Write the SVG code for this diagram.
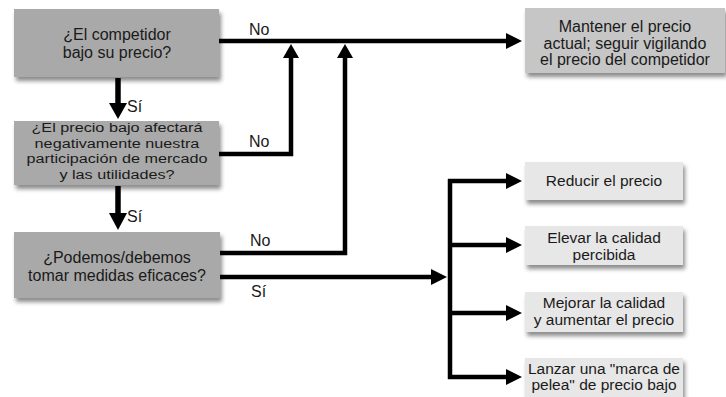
<svg xmlns="http://www.w3.org/2000/svg" width="726" height="397" viewBox="0 0 726 397">
<style>
  .t { font-family: "Liberation Sans", Arial, sans-serif; font-size: 16px; fill: #1a1a1a; text-anchor: middle; }
  .s { font-size: 15.5px; }
  .t2 { font-family: "Liberation Sans", Arial, sans-serif; font-size: 13.5px; fill: #1a1a1a; text-anchor: middle; }
  .lbl { font-family: "Liberation Sans", Arial, sans-serif; font-size: 16px; fill: #1a1a1a; }
  .q { fill: #a9a9a9; filter: url(#sh); }
  .m { fill: #c6c6c6; filter: url(#sh); }
  .a { fill: #e7e7e7; filter: url(#sh); }
  .ln { stroke: #000; stroke-width: 4.5; fill: none; }
  .hd { fill: #000; }
</style>
<defs>
  <filter id="sh" x="-5%" y="-10%" width="115%" height="140%">
    <feDropShadow dx="2" dy="4" stdDeviation="2" flood-color="#000" flood-opacity="0.45"/>
  </filter>
</defs>
<rect width="726" height="397" fill="#fff"/>

<g id="connectors">
  <path class="ln" d="M219,41 H508"/>
  <polygon class="hd" points="506,33 522,41 506,49"/>
  <path class="ln" d="M219,154 H291 V56"/>
  <polygon class="hd" points="283,58 291,44 299,58"/>
  <path class="ln" d="M220,253 H345 V56"/>
  <polygon class="hd" points="337,58 345,44 353,58"/>
  <path class="ln" d="M220,277 H433"/>
  <polygon class="hd" points="431,269 447,277 431,285"/>
  <path class="ln" d="M450,179 V379"/>
  <path class="ln" d="M448,181 H508"/>
  <polygon class="hd" points="506,173 522,181 506,189"/>
  <path class="ln" d="M450,245 H508"/>
  <polygon class="hd" points="506,237 522,245 506,253"/>
  <path class="ln" d="M450,313 H508"/>
  <polygon class="hd" points="506,305 522,313 506,321"/>
  <path class="ln" d="M448,377 H508"/>
  <polygon class="hd" points="506,369 522,377 506,385"/>
  <path class="ln" d="M118,78 V104" style="stroke-width:5.5"/>
  <polygon class="hd" points="109,103 127,103 118,119"/>
  <path class="ln" d="M118,186 V214" style="stroke-width:5.5"/>
  <polygon class="hd" points="109,213 127,213 118,230"/>
  <text class="lbl" x="249" y="35">No</text>
  <text class="lbl" x="249" y="147">No</text>
  <text class="lbl" x="250" y="246">No</text>
  <text class="lbl" x="251" y="297">Sí</text>
  <text class="lbl" x="127" y="112">Sí</text>
  <text class="lbl" x="127" y="222">Sí</text>
</g>

<g id="q1">
  <rect class="q" x="14" y="9" width="205" height="68"/>
  <text class="t" x="117" y="40">¿El competidor</text>
  <text class="t" x="117" y="58">bajo su precio?</text>
</g>
<g id="q2">
  <rect class="q" x="14" y="121" width="205" height="64"/>
  <g transform="translate(117,0) scale(1.2,1)">
    <text class="t2" x="0" y="132.5">¿El precio bajo afectará</text>
    <text class="t2" x="0" y="148">negativamente nuestra</text>
    <text class="t2" x="0" y="163.5">participación de mercado</text>
    <text class="t2" x="0" y="179">y las utilidades?</text>
  </g>
</g>
<g id="q3">
  <rect class="q" x="14" y="232" width="206" height="66"/>
  <text class="t" x="117" y="263">¿Podemos/debemos</text>
  <text class="t" x="117" y="281">tomar medidas eficaces?</text>
</g>
<g id="mantener">
  <rect class="m" x="525" y="8" width="200" height="65"/>
  <text class="t" x="625" y="32">Mantener el precio</text>
  <text class="t" x="625" y="48.5">actual; seguir vigilando</text>
  <text class="t" x="625" y="65">el precio del competidor</text>
</g>
<g id="reducir">
  <rect class="a" x="525" y="162" width="158" height="38"/>
  <text class="t s" x="604" y="186">Reducir el precio</text>
</g>
<g id="elevar">
  <rect class="a" x="525" y="226" width="158" height="39"/>
  <text class="t s" x="604" y="243">Elevar la calidad</text>
  <text class="t s" x="604" y="260">percibida</text>
</g>
<g id="mejorar">
  <rect class="a" x="525" y="292" width="158" height="40"/>
  <text class="t s" x="604" y="308">Mejorar la calidad</text>
  <text class="t s" x="604" y="325">y aumentar el precio</text>
</g>
<g id="lanzar">
  <rect class="a" x="525" y="358" width="158" height="41"/>
  <text class="t s" x="604" y="374">Lanzar una "marca de</text>
  <text class="t s" x="604" y="390">pelea" de precio bajo</text>
</g>
</svg>
